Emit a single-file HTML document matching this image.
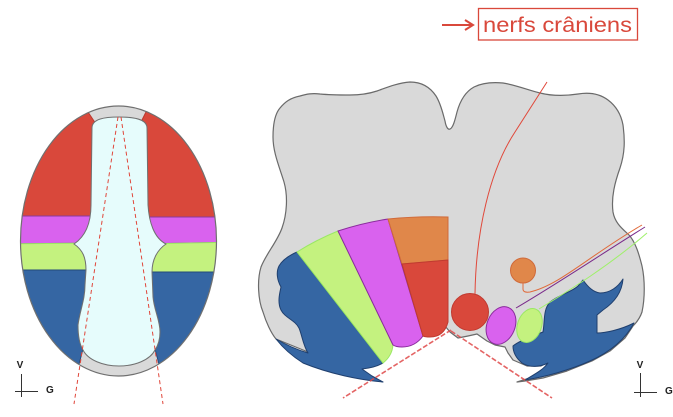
<!DOCTYPE html>
<html>
<head>
<meta charset="utf-8">
<style>
  html, body { margin: 0; padding: 0; background: #ffffff; }
  svg { display: block; }
  text { font-family: "Liberation Sans", Arial, sans-serif; }
</style>
</head>
<body>
<svg width="673" height="417" viewBox="0 0 673 417" xmlns="http://www.w3.org/2000/svg">
  <defs>
    <clipPath id="ov">
      <ellipse cx="118.5" cy="241" rx="98" ry="135"/>
    </clipPath>
  </defs>

  <!-- ============ LEFT OVAL (neural tube) ============ -->
  <ellipse cx="118.5" cy="241" rx="98" ry="135" fill="#d9d9d9"/>
  <g clip-path="url(#ov)" stroke-width="1">
    <path d="M0,0 L88,0 L88,112 L96,124 L96,216 L0,216 Z" fill="#d9483b" stroke="#b9392f"/>
    <path d="M0,216 L100,216 L100,243 L0,244 Z" fill="#d962ee" stroke="#8a3a9a"/>
    <path d="M0,244 L100,243 L100,270 L0,270 Z" fill="#c4f27f" stroke="#9ae864"/>
    <path d="M0,270 L100,270 L100,345 L83,349 L78,368 L0,368 Z" fill="#3566a3" stroke="#244a7a"/>
    <path d="M146,0 L240,0 L240,217 L140,217 L140,124 L146,112 Z" fill="#d9483b" stroke="#b9392f"/>
    <path d="M140,217 L240,217 L240,242 L140,244 Z" fill="#d962ee" stroke="#8a3a9a"/>
    <path d="M140,244 L240,242 L240,272 L140,272 Z" fill="#c4f27f" stroke="#9ae864"/>
    <path d="M140,272 L240,272 L240,368 L160,368 L155,349 L140,345 Z" fill="#3566a3" stroke="#244a7a"/>
  </g>
  <path d="M92,128 C92,119 104,117 119,117 C134,117 147,119 147,128 L148,205
           C149,222 154,238 166,244 C157,250 152,260 152,272 L153,297
           C154,310 160,320 160,332 C160,342 157,347 155,350
           C150,360 135,366 119,366 C103,366 88,360 83,350
           C80,345 78,338 78,325 C80,310 85,300 85,285 L86,270
           C86,258 83,250 74,244 C86,236 91,222 91,205 Z"
        fill="#e6fcfc" stroke="#707070" stroke-width="1"/>
  <ellipse cx="118.5" cy="241" rx="98" ry="135" fill="none" stroke="#707070" stroke-width="1.2"/>
  <line x1="118" y1="117" x2="74" y2="404" stroke="#e0463a" stroke-width="1" stroke-dasharray="4,3"/>
  <line x1="121" y1="117" x2="163" y2="404" stroke="#e0463a" stroke-width="1" stroke-dasharray="4,3"/>

  <text x="20" y="368" font-size="10" font-weight="bold" fill="#222" text-anchor="middle">V</text>
  <line x1="21.5" y1="374" x2="21.5" y2="397" stroke="#333" stroke-width="1"/>
  <line x1="15" y1="391.5" x2="38" y2="391.5" stroke="#333" stroke-width="1"/>
  <text x="46" y="393" font-size="10" font-weight="bold" fill="#222">G</text>

  <!-- ============ RIGHT FIGURE (hindbrain) ============ -->
  <path d="M263,312 C258,300 257,280 261,267 C266,254 277,242 282,228
           C287,214 288,196 284,182 C279,166 273,152 273,137 C273,127 274,115 280,108
           C285,102 290,98 300,96 C307,94 312,93 320,94 C330,95 340,95 350,95
           C360,95 368,94 377,91 C388,87 398,83 410,82 C422,82 430,87 436,96
           C441,104 443,114 445,121 C446,127 448,130 450,129 C453,128 455,120 457,112
           C460,101 465,92 474,87 C482,83 492,82 503,83 C516,85 528,90 540,93
           C552,96 565,96 578,94 C590,92 600,94 608,100 C616,106 621,114 623,125
           C625,140 625,153 620,168 C615,182 611,197 613,212 C615,224 624,230 630,236
           C636,244 639,254 642,266 C645,280 645,298 642,312 C640,318 637,322 633,326
           L625,338 L610,351 L592,361 L567,371 L543,378 L525,381 L517,382 L533,377
           L543,371 L548,362 L541,366 L527,366 L513,360 L508,353 L505,347 L495,345
           L487,341 L477,334 L468,336 L458,338 L450,332 L445,326 L420,334 L390,345
           L370,360 L308,352 L276,339 C271,333 266,322 263,312 Z"
        fill="#d9d9d9" stroke="#6a6a6a" stroke-width="1.2" stroke-linejoin="round"/>

  <!-- bands -->
  <path d="M297,252 L383,363 C378,366 372,368 362,369 L372,376 L383,382
           C360,380 330,374 303,363 C292,356 283,348 276,339 C288,346 298,350 308,353
           C303,345 302,335 299,328 C295,320 285,318 281,310 C277,302 280,292 281,287
           C277,280 276,272 279,266 C283,259 290,255 297,252 Z"
        fill="#3566a3" stroke="#1f3f6e" stroke-width="1" stroke-linejoin="round"/>
  <path d="M297,252 Q316,240 338,231 L393,345 Q392,356 383,363 Z"
        fill="#c4f27f" stroke="#9ae864" stroke-width="1"/>
  <path d="M338,231 Q362,223 388,219 L423,336 Q415,347 402,347 Q396,347 393,345 Z"
        fill="#d962ee" stroke="#8a2c9c" stroke-width="1"/>
  <path d="M388,219 Q418,216 448,217 L448,260 L402,264 Z"
        fill="#e0874a" stroke="#d06a3a" stroke-width="1"/>
  <path d="M402,264 L448,260 L448,322 Q444,337 430,337 Q425,337 423,336 Z"
        fill="#d9483b" stroke="#c03a30" stroke-width="1"/>

  <!-- right blue -->
  <path d="M513,346 C520,340 535,335 543,332 C545,320 543,310 550,302
           C560,294 572,292 578,286 L583,280 C588,287 593,292 600,293
           C610,293 618,287 623,279 C622,292 615,302 603,310 L597,315 L597,333
           C605,333 620,330 634,323 C625,340 610,352 590,361 C570,370 545,377 525,380
           C535,374 543,370 548,363 C540,367 530,368 522,363 C516,358 513,352 513,346 Z"
        fill="#3566a3" stroke="#1f3f6e" stroke-width="1" stroke-linejoin="round"/>

  <!-- nuclei -->
  <circle cx="470" cy="312" r="18.5" fill="#d9483b" stroke="#c03a30" stroke-width="1"/>
  <ellipse cx="501" cy="325.5" rx="14" ry="19.5" transform="rotate(22 501 325.5)" fill="#d962ee" stroke="#8a2c9c" stroke-width="1"/>
  <ellipse cx="529.5" cy="325.5" rx="12" ry="17.5" transform="rotate(20 529.5 325.5)" fill="#c4f27f" stroke="#9ae864" stroke-width="1"/>
  <circle cx="523" cy="270.5" r="12.5" fill="#e0874a" stroke="#d06a3a" stroke-width="1"/>

  <!-- nerves -->
  <path d="M475,294 C476,230 490,170 515,132 L547,82" fill="none" stroke="#e0483a" stroke-width="1"/>
  <path d="M523,283 L523,289 Q523,293 530,292 C560,285 590,255 642,225" fill="none" stroke="#e06a3a" stroke-width="1"/>
  <path d="M516,308 C560,282 600,255 645,227" fill="none" stroke="#7a2a8a" stroke-width="1"/>
  <path d="M539,309 C570,290 610,265 647,233" fill="none" stroke="#9ff06a" stroke-width="1"/>

  <!-- dashed lines right -->
  <line x1="451" y1="330" x2="343" y2="398" stroke="#e04a4a" stroke-width="1.6" stroke-dasharray="5,2" opacity="0.85"/>
  <line x1="451" y1="331" x2="552" y2="398" stroke="#e04a4a" stroke-width="1.6" stroke-dasharray="5,2" opacity="0.85"/>

  <text x="640" y="368" font-size="10" font-weight="bold" fill="#222" text-anchor="middle">V</text>
  <line x1="640.5" y1="373" x2="640.5" y2="397" stroke="#333" stroke-width="1"/>
  <line x1="634" y1="392.5" x2="657" y2="392.5" stroke="#333" stroke-width="1"/>
  <text x="665" y="394" font-size="10" font-weight="bold" fill="#222">G</text>

  <!-- ============ LABEL ============ -->
  <line x1="442" y1="25" x2="472" y2="25" stroke="#d9483b" stroke-width="2"/>
  <path d="M465,20 L473,25 L465,30" fill="none" stroke="#d9483b" stroke-width="2"/>
  <rect x="478.5" y="8.5" width="159" height="31.5" fill="none" stroke="#d9483b" stroke-width="1.3"/>
  <text x="483" y="32" font-size="21" fill="#d9483b" textLength="149" lengthAdjust="spacingAndGlyphs">nerfs crâniens</text>
</svg>
</body>
</html>
